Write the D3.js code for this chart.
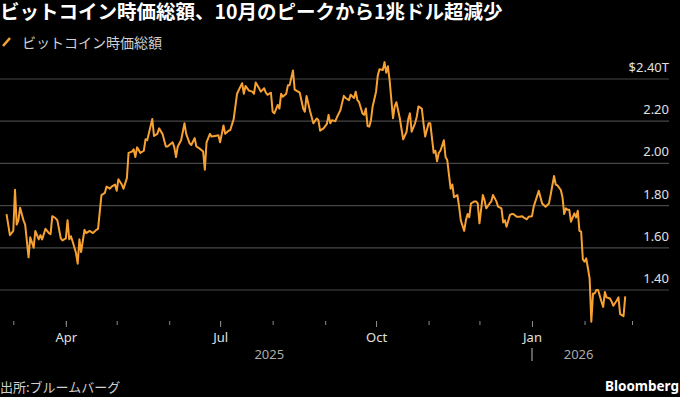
<!DOCTYPE html>
<html>
<head>
<meta charset="utf-8">
<script src="https://cdn.jsdelivr.net/npm/d3@7"></script>
<style>
  body { margin: 0; background: #000; }
  svg { display: block; font-family: 'Noto Sans', 'Noto Sans CJK JP', sans-serif; }
</style>
</head>
<body>
<svg width="680" height="397"></svg>
<script>
// Chart text
var title = 'ビットコイン時価総額、10月のピークから1兆ドル超減少';
var seriesName = 'ビットコイン時価総額';
var source = '出所:ブルームバーグ';

// Daily-ish readings of market cap, trillions of USD
var dates = [
  '2025-02-25','2025-02-27',
  '2025-03-01','2025-03-02','2025-03-03','2025-03-04','2025-03-05','2025-03-07','2025-03-08','2025-03-10','2025-03-11','2025-03-13','2025-03-14','2025-03-16','2025-03-17','2025-03-18','2025-03-20','2025-03-22','2025-03-23','2025-03-24','2025-03-26','2025-03-27','2025-03-29','2025-03-30',
  '2025-04-01','2025-04-02','2025-04-03','2025-04-04','2025-04-05','2025-04-07','2025-04-08','2025-04-09','2025-04-10','2025-04-12','2025-04-13','2025-04-15','2025-04-17','2025-04-19','2025-04-20','2025-04-22','2025-04-24','2025-04-25','2025-04-27','2025-04-28','2025-04-30',
  '2025-05-01','2025-05-02','2025-05-04','2025-05-05','2025-05-07','2025-05-08','2025-05-10','2025-05-11','2025-05-12','2025-05-13','2025-05-15','2025-05-17','2025-05-18','2025-05-19','2025-05-22','2025-05-23','2025-05-25','2025-05-26','2025-05-28','2025-05-30','2025-05-31',
  '2025-06-03','2025-06-04','2025-06-05','2025-06-06','2025-06-08','2025-06-10','2025-06-11','2025-06-13','2025-06-14','2025-06-16','2025-06-17','2025-06-19','2025-06-21','2025-06-22','2025-06-23','2025-06-25','2025-06-26','2025-06-28','2025-06-30',
  '2025-07-01','2025-07-03','2025-07-04','2025-07-06','2025-07-07','2025-07-09','2025-07-11','2025-07-13','2025-07-14','2025-07-15','2025-07-16','2025-07-18','2025-07-20','2025-07-21','2025-07-22','2025-07-24','2025-07-25','2025-07-27','2025-07-28','2025-07-29','2025-07-31',
  '2025-08-01','2025-08-02','2025-08-04','2025-08-05','2025-08-06','2025-08-07','2025-08-09','2025-08-10','2025-08-11','2025-08-13','2025-08-14','2025-08-16','2025-08-17','2025-08-19','2025-08-20','2025-08-21','2025-08-23','2025-08-25','2025-08-27','2025-08-28','2025-08-29','2025-08-31',
  '2025-09-02','2025-09-03','2025-09-04','2025-09-05','2025-09-07','2025-09-08','2025-09-10','2025-09-12','2025-09-13','2025-09-15','2025-09-16','2025-09-18','2025-09-19','2025-09-20','2025-09-21','2025-09-23','2025-09-24','2025-09-25','2025-09-26','2025-09-27','2025-09-28','2025-09-29',
  '2025-10-01','2025-10-02','2025-10-03','2025-10-05','2025-10-06','2025-10-07','2025-10-08','2025-10-09','2025-10-11','2025-10-12','2025-10-13','2025-10-15','2025-10-17','2025-10-19','2025-10-20','2025-10-21','2025-10-22','2025-10-24','2025-10-25','2025-10-26','2025-10-28','2025-10-29','2025-10-30',
  '2025-11-01','2025-11-02','2025-11-03','2025-11-04','2025-11-05','2025-11-06','2025-11-07','2025-11-08','2025-11-10','2025-11-11','2025-11-12','2025-11-14','2025-11-15','2025-11-16','2025-11-18','2025-11-19','2025-11-20','2025-11-22','2025-11-23','2025-11-24','2025-11-25','2025-11-26','2025-11-28','2025-11-29','2025-11-30',
  '2025-12-01','2025-12-03','2025-12-04','2025-12-05','2025-12-07','2025-12-08','2025-12-09','2025-12-11','2025-12-12','2025-12-14','2025-12-15','2025-12-16','2025-12-17','2025-12-19','2025-12-20','2025-12-21','2025-12-23','2025-12-25','2025-12-26','2025-12-27','2025-12-29','2025-12-30',
  '2026-01-01','2026-01-02','2026-01-03','2026-01-05','2026-01-06','2026-01-07','2026-01-09','2026-01-11','2026-01-12','2026-01-14','2026-01-15','2026-01-16','2026-01-18','2026-01-19','2026-01-20','2026-01-21','2026-01-22','2026-01-23','2026-01-24','2026-01-26','2026-01-27','2026-01-28','2026-01-29','2026-01-30','2026-01-31',
  '2026-02-01','2026-02-02','2026-02-03','2026-02-04','2026-02-05','2026-02-06','2026-02-07','2026-02-08','2026-02-09','2026-02-11','2026-02-12','2026-02-13','2026-02-14','2026-02-16','2026-02-17','2026-02-18','2026-02-20','2026-02-21','2026-02-22','2026-02-24','2026-02-25'
];
var values = [
  1.76,1.66,
  1.68,1.875,1.71,1.73,1.79,1.73,1.71,1.555,1.65,1.60,1.68,1.64,1.66,1.64,1.69,1.67,1.665,1.75,1.74,1.73,1.645,1.635,
  1.645,1.73,1.64,1.655,1.63,1.575,1.525,1.64,1.58,1.685,1.67,1.68,1.67,1.685,1.69,1.85,1.86,1.89,1.88,1.89,1.90,
  1.87,1.925,1.90,1.88,1.93,2.05,2.056,2.067,2.03,2.076,2.05,2.06,2.114,2.11,2.21,2.13,2.14,2.166,2.14,2.08,2.08,
  2.10,2.076,2.03,2.08,2.11,2.19,2.14,2.095,2.087,2.12,2.08,2.07,2.056,1.97,2.10,2.14,2.127,2.13,2.133,
  2.10,2.18,2.14,2.155,2.158,2.21,2.33,2.364,2.38,2.33,2.367,2.345,2.34,2.33,2.383,2.356,2.34,2.356,2.335,2.325,2.335,
  2.245,2.237,2.277,2.26,2.33,2.316,2.33,2.37,2.37,2.44,2.35,2.34,2.335,2.26,2.245,2.32,2.25,2.19,2.213,2.205,2.155,2.166,
  2.187,2.23,2.19,2.205,2.20,2.22,2.253,2.32,2.31,2.30,2.325,2.31,2.34,2.30,2.29,2.237,2.23,2.26,2.177,2.174,2.205,2.27,
  2.34,2.415,2.446,2.443,2.48,2.43,2.46,2.395,2.214,2.27,2.29,2.214,2.114,2.15,2.21,2.237,2.15,2.19,2.22,2.27,2.26,2.19,2.127,
  2.19,2.19,2.12,2.05,2.06,2.01,2.05,2.06,2.11,2.03,2.016,1.88,1.90,1.84,1.85,1.795,1.73,1.68,1.73,1.76,1.745,1.81,1.82,1.82,1.81,
  1.716,1.85,1.826,1.787,1.81,1.82,1.85,1.82,1.795,1.787,1.72,1.73,1.70,1.756,1.76,1.76,1.747,1.747,1.75,1.744,1.735,1.747,
  1.75,1.795,1.82,1.87,1.84,1.81,1.795,1.81,1.85,1.94,1.90,1.896,1.874,1.84,1.76,1.787,1.78,1.78,1.724,1.763,1.744,1.776,1.68,1.676,1.545,
  1.534,1.55,1.503,1.455,1.25,1.384,1.384,1.40,1.40,1.345,1.32,1.39,1.365,1.36,1.345,1.325,1.35,1.365,1.286,1.276,1.37
];

// Axis ticks
var yTicks = [1.4, 1.6, 1.8, 2.0, 2.2, 2.4];
var majorMonths = ['2025-04-01', '2025-07-01', '2025-10-01', '2026-01-01'];
var monthLabels = ['Apr', 'Jul', 'Oct', 'Jan'];
var yearLabels = ['2025', '2026'];

var lineColor = '#f7a133';
var parse = d3.utcParse('%Y-%m-%d');
var data = dates.map((d, i) => ({date: parse(d), value: values[i]}));

var svg = d3.select('svg');
var gridRight = 669;

// Scales: Mar 1 2025 sits at x=13, one day is about 1.695px
var x = d3.scaleUtc()
  .domain([parse('2025-03-01'), parse('2026-03-01')])
  .range([13.3, 632]);
var y = d3.scaleLinear().domain([1.4, 2.4]).range([290, 79]);

// Title and legend
svg.append('text').text(title)
  .attr('x', 0).attr('y', 18.5)
  .attr('fill', '#fff')
  .attr('font-size', 19.5).attr('font-weight', 'bold')
  .attr('font-family', "'Noto Sans CJK JP', sans-serif");

svg.append('line')
  .attr('x1', 3).attr('y1', 46).attr('x2', 10).attr('y2', 38)
  .attr('stroke', lineColor).attr('stroke-width', 2.5);
svg.append('text').text(seriesName)
  .attr('x', 22).attr('y', 47.5)
  .attr('fill', '#d0d0d0').attr('font-size', 14)
  .attr('font-family', "'Noto Sans CJK JP', sans-serif");

// Gridlines and right-side labels
var grid = svg.append('g');
grid.selectAll('line').data(yTicks).enter().append('line')
  .attr('x1', 0).attr('x2', gridRight)
  .attr('y1', d => y(d)).attr('y2', d => y(d))
  .attr('stroke', '#474747').attr('stroke-width', 1.2);
grid.selectAll('text').data(yTicks).enter().append('text')
  .text(d => d === 2.4 ? '$' + d.toFixed(2) + 'T' : d.toFixed(2))
  .attr('x', gridRight).attr('y', d => y(d) - 7)
  .attr('text-anchor', 'end')
  .attr('fill', '#e0e0e0').attr('font-size', 13);

// X axis: minor month ticks, then major quarter ticks with labels
var axisY = 321;
var minor = d3.axisBottom(x).ticks(d3.utcMonth.every(1)).tickSize(4).tickFormat('');
var major = d3.axisBottom(x).tickValues(majorMonths.map(parse)).tickSize(6)
  .tickFormat((d, i) => monthLabels[i]);

svg.append('g').attr('transform', 'translate(0,' + axisY + ')').call(minor)
  .call(g => g.select('.domain').remove())
  .call(g => g.selectAll('line').attr('stroke', '#8a8a8a'));
svg.append('g').attr('transform', 'translate(0,' + axisY + ')').call(major)
  .call(g => g.select('.domain').remove())
  .call(g => g.selectAll('line').attr('stroke', '#8a8a8a'))
  .call(g => g.selectAll('text').attr('fill', '#e0e0e0').attr('font-size', 13)
    .attr('font-family', "'Noto Sans', sans-serif").attr('y', 21).attr('dy', 0));

// Year labels centred over each year's span of data, with a divider at Jan 1
var jan1 = parse('2026-01-01');
var first = data[0].date, last = data[data.length - 1].date;
var yearCenters = [(x(first) + x(jan1)) / 2, (x(jan1) + x(last)) / 2];
svg.selectAll('.year').data(yearLabels).enter().append('text')
  .attr('class', 'year')
  .text(d => d)
  .attr('x', (d, i) => yearCenters[i]).attr('y', 359)
  .attr('text-anchor', 'middle')
  .attr('fill', '#ababab').attr('font-size', 13);
svg.append('line')
  .attr('x1', x(jan1)).attr('x2', x(jan1))
  .attr('y1', 348).attr('y2', 361)
  .attr('stroke', '#bbb').attr('stroke-width', 1);

// The line
var line = d3.line().x(d => x(d.date)).y(d => y(d.value));
svg.append('path').datum(data)
  .attr('fill', 'none')
  .attr('stroke', lineColor)
  .attr('stroke-width', 2)
  .attr('stroke-linejoin', 'round')
  .attr('d', line);

// Footer
svg.append('text').text(source)
  .attr('x', 0).attr('y', 392)
  .attr('fill', '#d0d0d0').attr('font-size', 13)
  .attr('font-family', "'Noto Sans CJK JP', sans-serif");
svg.append('text').text('Bloomberg')
  .attr('x', 679).attr('y', 391)
  .attr('text-anchor', 'end')
  .attr('fill', '#fff').attr('font-size', 13.5).attr('font-weight', 'bold');
</script>
</body>
</html>
